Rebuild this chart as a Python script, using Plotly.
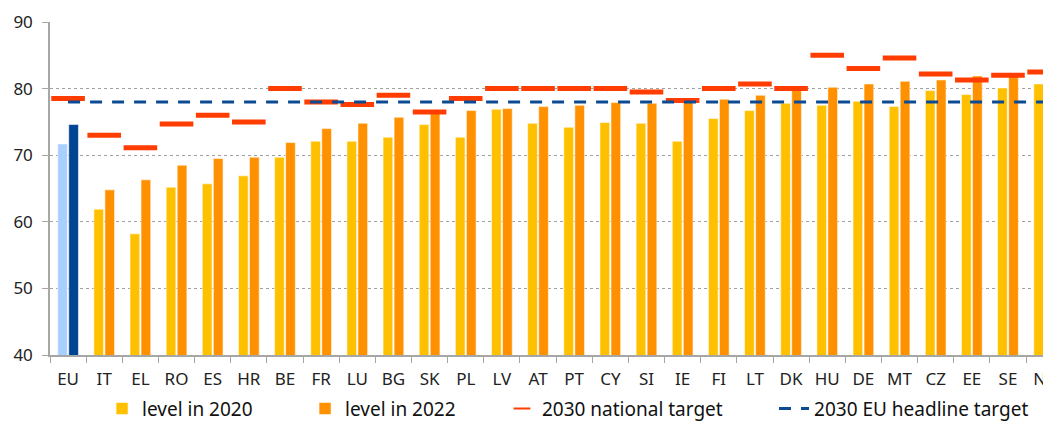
import plotly.graph_objects as go

countries = ["EU", "IT", "EL", "RO", "ES", "HR", "BE", "FR", "LU", "BG", "SK", "PL", "LV", "AT",
             "PT", "CY", "SI", "IE", "FI", "LT", "DK", "HU", "DE", "MT", "CZ", "EE", "SE", "NL"]
level_2020 = [71.7, 61.9, 58.2, 65.2, 65.7, 66.9, 69.7, 72.1, 72.1, 72.7, 74.6, 72.7, 76.9, 74.8,
              74.2, 74.9, 74.8, 72.1, 75.5, 76.7, 77.8, 77.5, 78.1, 77.3, 79.7, 79.1, 80.1, 80.7]
level_2022 = [74.6, 64.8, 66.3, 68.5, 69.5, 69.7, 71.9, 74.0, 74.8, 75.7, 76.7, 76.7, 77.0, 77.3,
              77.5, 77.9, 77.8, 78.1, 78.4, 79.0, 79.9, 80.2, 80.7, 81.1, 81.3, 81.9, 82.2, 82.9]
national_target = [78.5, 73.0, 71.1, 74.7, 76.0, 75.0, 80.0, 78.0, 77.6, 79.0, 76.5, 78.5, 80.0, 80.0,
                   80.0, 80.0, 79.5, 78.2, 80.0, 80.7, 80.0, 85.0, 83.0, 84.6, 82.2, 81.3, 82.0, 82.5]
eu_headline = [78.0] * len(countries)

edge = dict(color="rgba(255,255,255,0.55)", width=1)

fig = go.Figure()
# EU bars in blue, kept out of the legend
fig.add_trace(go.Bar(x=countries[:1], y=level_2020[:1], offsetgroup="2020", showlegend=False,
                     marker=dict(color="#A9CFFF", line=edge)))
fig.add_trace(go.Bar(x=countries[:1], y=level_2022[:1], offsetgroup="2022", showlegend=False,
                     marker=dict(color="#004494", line=edge)))
fig.add_trace(go.Bar(x=countries[1:], y=level_2020[1:], offsetgroup="2020", name="level in 2020",
                     marker=dict(color="#FFC000", line=edge)))
fig.add_trace(go.Bar(x=countries[1:], y=level_2022[1:], offsetgroup="2022", name="level in 2022",
                     marker=dict(color="#FF9100", line=edge)))
fig.add_trace(go.Scatter(x=countries, y=national_target, name="2030 national target", mode="markers",
                         legend="legend2",
                         marker=dict(symbol="line-ew", size=24, line=dict(color="#FF3D00", width=5))))
fig.add_trace(go.Scatter(x=countries, y=eu_headline, name="2030 EU headline target", mode="lines",
                         legend="legend3",
                         line=dict(color="#0D4A94", width=3, dash="12px,10px")))

# the page body adds an 8px margin, so the figure is a bit smaller than the window
leg_font = dict(size=19, color="#111111")
fig.update_layout(
    width=1043, height=420,
    margin=dict(l=42, r=0, t=14, b=65),
    paper_bgcolor="white", plot_bgcolor="white",
    font=dict(family="Noto Sans", size=17, color="#222222"),
    barmode="group", bargap=0.39, bargroupgap=0.12,
    showlegend=True,
    legend=dict(orientation="h", x=0.052, xanchor="left", y=-0.161, yanchor="middle",
                entrywidth=158, font=leg_font, traceorder="normal"),
    legend2=dict(orientation="h", x=0.4515, xanchor="left", y=-0.161, yanchor="middle",
                 font=leg_font, itemsizing="constant"),
    legend3=dict(orientation="h", x=0.7233, xanchor="left", y=-0.161, yanchor="middle", font=leg_font),
)
fig.update_yaxes(range=[40, 90], dtick=10, showgrid=True, gridcolor="#A0A0A0", griddash="dot",
                 gridwidth=1, showline=True, linecolor="#A6A6A6", linewidth=1.5,
                 ticks="outside", ticklen=6, tickcolor="#A6A6A6", zeroline=False,
                 ticklabelstandoff=6, automargin=False)
fig.update_xaxes(type="category", categoryorder="array", categoryarray=countries,
                 range=[-0.5, 27.19], showline=True, linecolor="#A6A6A6", linewidth=1.5,
                 ticks="outside", ticklen=6, tickcolor="#A6A6A6", tickson="boundaries",
                 showgrid=False, ticklabelstandoff=8, automargin=False)

fig.write_html("out.html")
